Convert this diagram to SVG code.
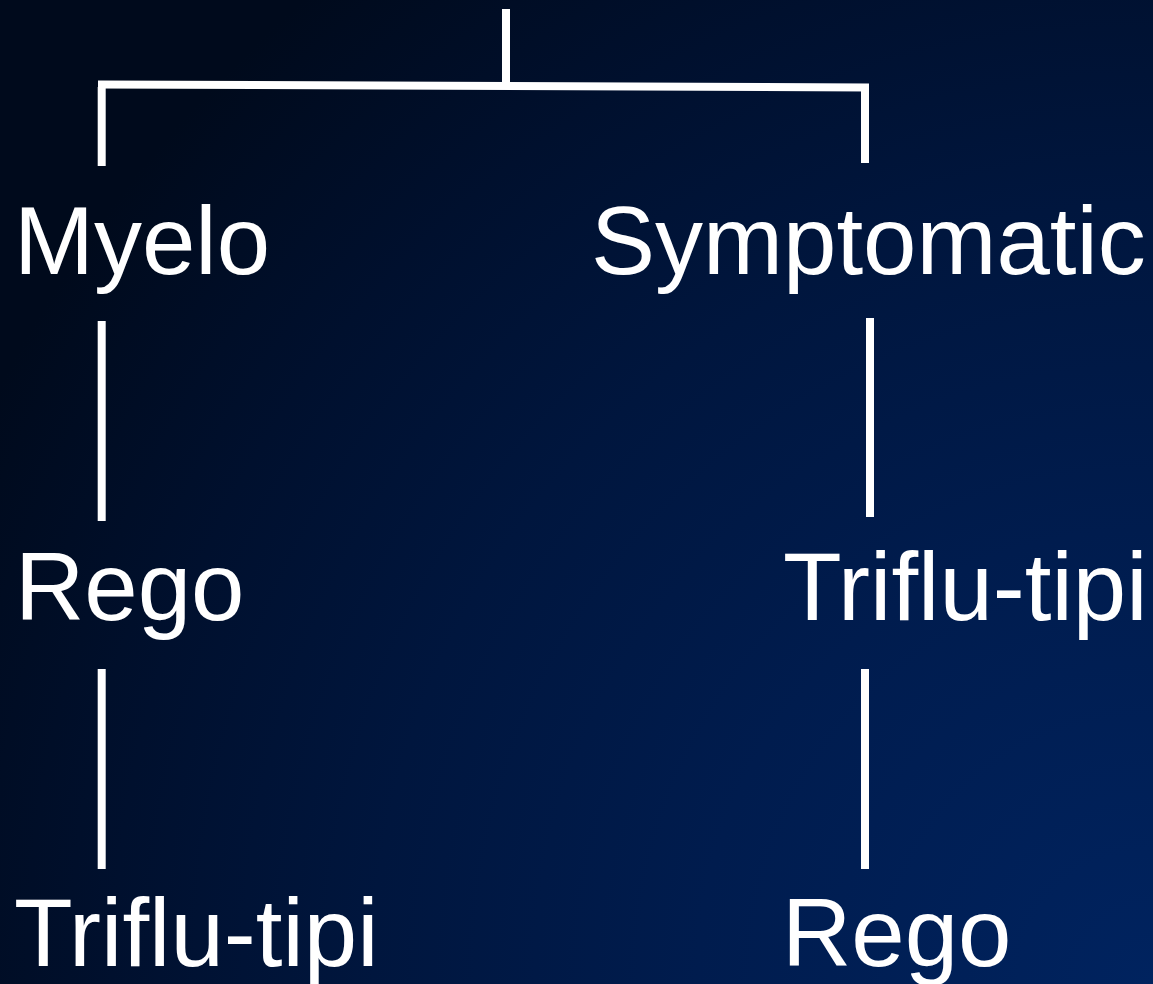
<svg xmlns="http://www.w3.org/2000/svg" width="1153" height="984" viewBox="0 0 1153 984">
  <defs>
    <radialGradient id="bg" gradientUnits="userSpaceOnUse" cx="1153" cy="984" r="1300">
      <stop offset="0" stop-color="#00235f"/>
      <stop offset="0.35" stop-color="#001c4e"/>
      <stop offset="0.6" stop-color="#00163e"/>
      <stop offset="0.8" stop-color="#00102e"/>
      <stop offset="1" stop-color="#000a1c"/>
    </radialGradient>
    <style>
      .lbl { font-family: "Liberation Sans", Arial, sans-serif; font-size: 96px; fill: #ffffff; }
      .wire { stroke: #ffffff; stroke-width: 8; fill: none; stroke-linecap: butt; }
    </style>
  </defs>

  <rect x="0" y="0" width="1153" height="984" fill="url(#bg)"/>

  <!-- connectors -->
  <g id="connectors">
    <line class="wire" x1="506" y1="9" x2="506" y2="82"/>
    <line class="wire" x1="98" y1="84.5" x2="869" y2="87.5"/>
    <line class="wire" x1="101.7" y1="87" x2="101.7" y2="166"/>
    <line class="wire" x1="865" y1="84" x2="865" y2="163"/>
    <line class="wire" x1="101.7" y1="321" x2="101.7" y2="521"/>
    <line class="wire" x1="870" y1="318" x2="870" y2="517"/>
    <line class="wire" x1="101.7" y1="669" x2="101.7" y2="869"/>
    <line class="wire" x1="865" y1="669" x2="865" y2="869"/>
  </g>

  <!-- left branch -->
  <g id="node-myelo"><text class="lbl" x="14" y="274">Myelo</text></g>
  <g id="node-rego-left"><text class="lbl" x="15" y="620">Rego</text></g>
  <g id="node-triflu-left"><text class="lbl" x="14" y="966">Triflu-tipi</text></g>

  <!-- right branch -->
  <g id="node-symptomatic"><text class="lbl" x="591" y="274">Symptomatic</text></g>
  <g id="node-triflu-right"><text class="lbl" x="783" y="620">Triflu-tipi</text></g>
  <g id="node-rego-right"><text class="lbl" x="782" y="966">Rego</text></g>
</svg>
